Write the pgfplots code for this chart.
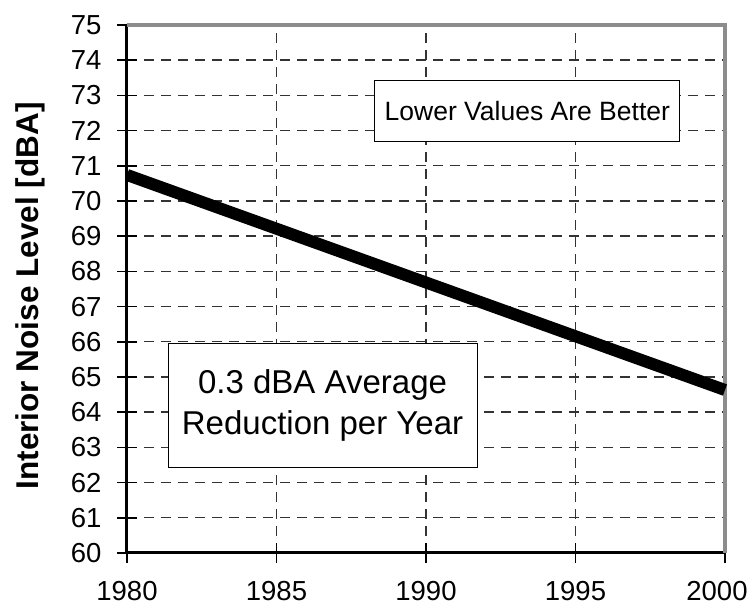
\documentclass[border=0pt]{standalone}
\usepackage{pgfplots}
\pgfplotsset{compat=1.18}
\usepackage{fontspec}
\setmainfont{Liberation Sans}
\begin{document}
\begin{tikzpicture}
\begin{axis}[
  scale only axis,
  width=598pt, height=528pt,
  xmin=1980, xmax=2000, ymin=60, ymax=75,
  xtick={1980,1985,...,2000},
  xticklabels={1980,1985,1990,1995,{\hspace*{-16pt}2000}},
  ytick={60,61,...,75},
  /pgf/number format/assume math mode=true,
  tick label style={font=\fontsize{27.5}{30}\selectfont, black},
  xticklabel style={yshift=-15pt},
  yticklabel style={xshift=-12pt},
  axis x line*=bottom, axis y line*=left,
  axis line style={black, line width=3pt, -},
  tick align=center,
  major tick length=20pt,
  tick style={black, line width=1.6pt},
  grid=major,
  major grid style={black!80, line width=1.4pt, dash pattern=on 10pt off 7pt},
  ylabel={\bfseries Interior Noise Level [dBA]},
  ylabel style={font=\fontsize{31.5}{34}\selectfont, at={(rel axis cs:0,0.487)}, anchor=north, yshift=115pt},
  clip=false,
]
\draw[gray!90, line width=4pt] (rel axis cs:0,1) -- (rel axis cs:1,1) -- (rel axis cs:1,0);
\addplot[black, line width=12pt] coordinates {(1980,70.74) (2000,64.63)};
\node[draw=black, fill=white, line width=1pt, inner xsep=10pt, inner ysep=21pt,
      font=\fontsize{26.5}{30}\selectfont] at (axis cs:1993.39,72.56) {Lower Values Are Better};
\node[draw=black, fill=white, line width=1pt, inner xsep=0pt, inner ysep=0pt, align=center,
      minimum width=309pt, minimum height=124pt,
      font=\fontsize{33}{41}\selectfont] at (axis cs:1986.54,64.2) {0.3 dBA Average\\Reduction per Year};
\coordinate (A) at (rel axis cs:0,0);
\end{axis}
\pgfresetboundingbox
\path (A) ++(-127pt,-54pt) rectangle ++(752pt,607pt);
\end{tikzpicture}
\end{document}
